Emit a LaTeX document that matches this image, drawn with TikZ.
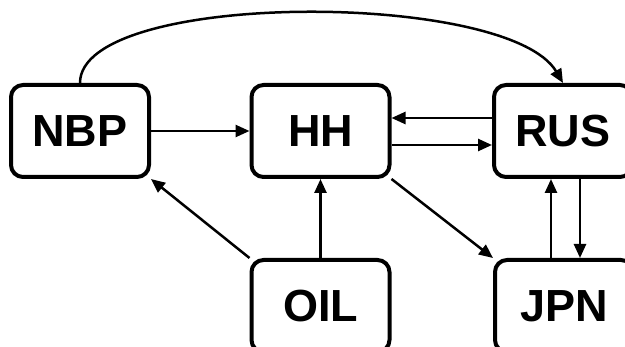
\documentclass[tikz,border=0pt]{standalone}
\usepackage{fontspec}
\setmainfont{Liberation Sans}
\usepackage{tikz}
\usetikzlibrary{arrows.meta}

\begin{document}
\begin{tikzpicture}[
    x=1pt, y=-1pt,
    market/.style={rectangle, draw, line width=4pt, rounded corners=12pt, minimum width=138pt, minimum height=92pt, font=\fontsize{45}{54}\selectfont\bfseries},
    link/.style={line width=2.5pt, -{Triangle[length=14pt, width=12pt]}},
]
\useasboundingbox (0,0) rectangle (625,347);

% Markets
\node[market] (nbp) at (80, 131) {NBP};
\node[market] (hh) at (320.5, 131) {HH};
\node[market] (rus) at (563, 131) {RUS};
\node[market] (oil) at (320.5, 306) {OIL};
\node[market] (jpn) at (564, 306) {JPN};

% Top row
\draw[link] (nbp.east) -- (hh.west);
\draw[link] ([yshift=13pt]rus.west) -- ([yshift=13pt]hh.east);
\draw[link] ([yshift=-14pt]hh.east) -- ([yshift=-14pt]rus.west);
\draw[link] (nbp.north) .. controls +(0,-93) and +(-55,-93) .. (rus.north);

% Oil connections
\draw[link] (oil.north west) -- (nbp.south east);
\draw[link] (oil.north) -- (hh.south);

% Japan connections
\draw[link] (hh.south east) -- (jpn.north west);
\draw[link] ([xshift=-13pt]jpn.north) -- ([xshift=-12pt]rus.south);
\draw[link] ([xshift=17pt]rus.south) -- ([xshift=16pt]jpn.north);
\end{tikzpicture}
\end{document}
